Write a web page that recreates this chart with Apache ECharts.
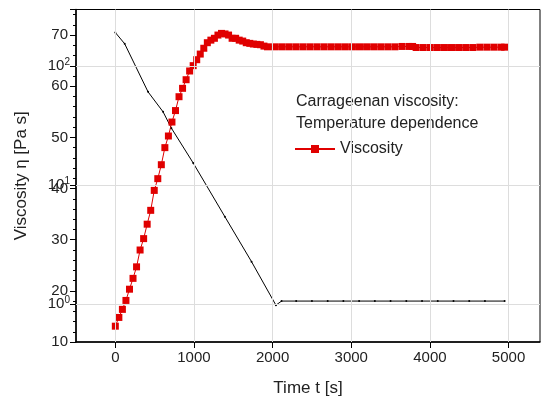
<!DOCTYPE html>
<html><head><meta charset="utf-8">
<script src="https://cdn.jsdelivr.net/npm/echarts@6/dist/echarts.min.js"></script>
<style>html,body{margin:0;padding:0;background:#fff}#c{width:550px;height:416px}</style>
</head><body><div id="c"></div>
<script>
// Viscosity (Pa s) vs time (s)
const viscTime = [0,45,90,135,180,225,270,315,360,405,450,495,540,585,630,675,720,765,810,855,900,945,990,1035,1080,1125,1170,1215,1260,1305,1350,1395,1440,1485,1530,1575,1620,1665,1710,1755,1800,1845,1890,1935,
  2025,2115,2205,2295,2385,2475,2565,2655,2745,2835,2925,3015,3105,3195,3285,3375,3465,3555,3645,3735,3780,3825,3915,4005,4095,4185,4275,4365,4455,4545,4635,4725,4815,4905,4950];
const viscValues = [0.65,0.77,0.90,1.07,1.33,1.64,2.05,2.84,3.54,4.68,6.12,9.0,11.3,14.8,20.6,25.8,33.8,42.2,55.2,64.9,76.7,90.8,100.7,113,126,141,157,165,171,182,188,186,182,171,171,165,162,157,155,153,152,151,147,145,
  145,145,145,145,145,145,145,145,145,145,145,145,145,145,145,145,145,145,146,146,146,143,143,143,143,143,143,143,143,143,144,144,144,144,144];
// Temperature (°C) vs time (s)
const tempTime = [0,119,416,607,713,990,1393,1732,2042,2114,2300,2500,2700,2900,3100,3300,3500,3700,3900,4100,4300,4500,4700,4950];
const tempValues = [70.5,68.3,58.9,55,51.8,45,34.5,25.7,17.2,18,18,18,18,18,18,18,18,18,18,18,18,18,18,18];
const xTicks = [0,1000,2000,3000,4000,5000];
const logTicks = [0,1,2];

const viscData = viscTime.map((t,i)=>[t, Math.log10(viscValues[i])]);
const tempData = tempTime.map((t,i)=>[t, tempValues[i]]);
const font = 'Liberation Sans, Arial, sans-serif';
const chart = echarts.init(document.getElementById('c'));
chart.setOption({
  animation:false,
  grid:{left:76,right:10,top:9.5,bottom:74,show:true,borderColor:'#000',borderWidth:1},
  xAxis:{type:'value',min:-500,max:5400,name:'Time t [s]',nameLocation:'middle',nameGap:38,
    nameTextStyle:{fontSize:17,color:'#222',fontFamily:font},
    axisLine:{onZero:false,lineStyle:{color:'#000',width:1.5}},
    axisTick:{customValues:xTicks,length:6,lineStyle:{color:'#000'}},
    axisLabel:{customValues:xTicks,fontSize:15,color:'#222',fontFamily:font,formatter:v=>String(v)},
    splitLine:{show:false}},
  yAxis:[
    {type:'value',min:10,max:75,interval:10,position:'left',
     name:'Viscosity η [Pa s]',nameLocation:'middle',nameGap:46,nameTextStyle:{fontSize:17,color:'#222',fontFamily:font},
     axisLine:{show:true,onZero:false,lineStyle:{color:'#000',width:1.5}},
     axisTick:{length:6,lineStyle:{color:'#000'}},minorTick:{show:true,splitNumber:5,length:3,lineStyle:{color:'#000'}},
     axisLabel:{fontSize:15,color:'#222',fontFamily:font,showMaxLabel:false},splitLine:{show:false}},
    {type:'value',min:-0.32,max:2.475,position:'left',
     axisLine:{show:false,onZero:false},
     axisTick:{customValues:logTicks,length:6,lineStyle:{color:'#000'}},
     axisLabel:{customValues:logTicks,margin:6,formatter:v=>'{b|10}{s|'+Math.round(v)+'}',
       rich:{b:{fontSize:15,color:'#222',fontFamily:font},s:{fontSize:10,color:'#222',fontFamily:font,verticalAlign:'top',padding:[0,0,8,0]}}},
     splitLine:{show:false}}
  ],
  legend:{data:['Viscosity'],left:289,top:136,itemWidth:40,itemHeight:10,itemGap:5,
    textStyle:{fontSize:16,color:'#222',fontFamily:font}},
  graphic:[{type:'text',left:296,top:91,style:{text:'Carrageenan viscosity:\nTemperature dependence',fontSize:16,lineHeight:22,fill:'#222',fontFamily:font}}],
  series:[
    {type:'line',name:'grid',yAxisIndex:1,data:[],silent:true,
     markLine:{symbol:'none',silent:true,label:{show:false},lineStyle:{color:'#ddd',type:'solid',width:1},
       data:xTicks.map(v=>({xAxis:v})).concat(logTicks.map(v=>({yAxis:v})))}},
    {type:'line',name:'Temperature',yAxisIndex:0,data:tempData,symbol:'circle',symbolSize:2,showSymbol:true,
     itemStyle:{color:'#000'},lineStyle:{color:'#000',width:1}},
    {type:'line',name:'Viscosity',yAxisIndex:1,data:viscData,symbol:'rect',symbolSize:7,
     itemStyle:{color:'#e00000'},lineStyle:{color:'#e00000',width:1}}
  ]
});
</script></body></html>
